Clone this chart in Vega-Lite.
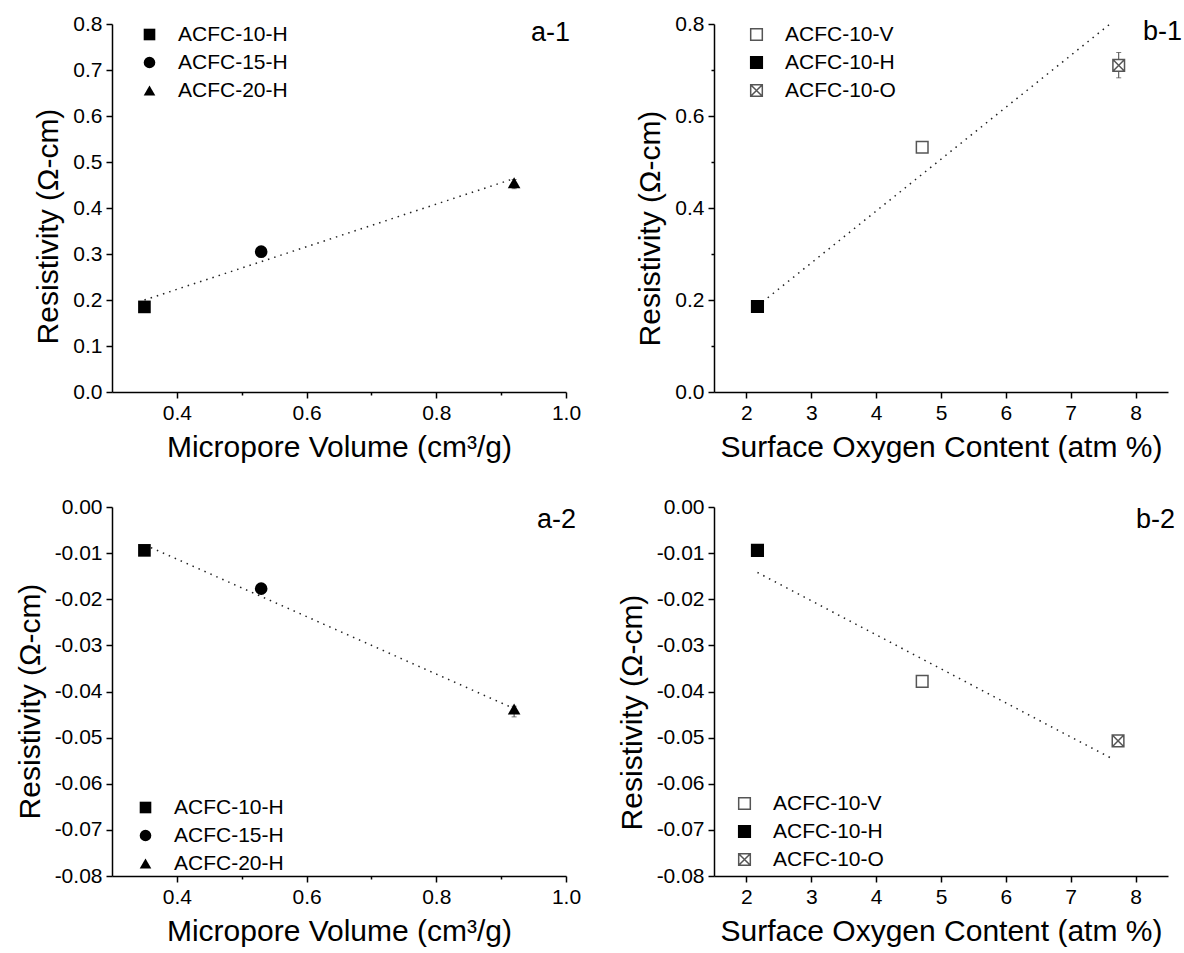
{
  "$schema": "https://vega.github.io/schema/vega-lite/v6.json",
  "background": "white",
  "padding": {"left": 15, "top": 13, "right": 5, "bottom": 5},
  "config": {
    "font": "Liberation Sans",
    "view": {"stroke": null},
    "axis": {
      "domainColor": "black", "domainWidth": 1.5,
      "tickColor": "black", "tickWidth": 1.5,
      "labelFont": "Liberation Sans", "labelFontSize": 21, "labelColor": "black",
      "titleFont": "Liberation Sans", "titleFontSize": 30, "titleFontWeight": "normal", "titleColor": "black",
      "grid": false, "labelPadding": 4, "titlePadding": 9,
      "labelFlush": false, "labelOverlap": false
    },
    "legend": {
      "labelFont": "Liberation Sans", "labelFontSize": 21, "labelColor": "black",
      "symbolSize": 135, "symbolStrokeWidth": 1.5, "rowPadding": 6, "labelOffset": 18, "padding": 0
    }
  },
  "resolve": {
    "scale": {"shape": "independent", "fill": "independent", "stroke": "independent"},
    "legend": {"shape": "independent", "fill": "independent", "stroke": "independent"}
  },
  "datasets": {
    "a1": [
      {"sample": "ACFC-10-H", "x": 0.35, "y": 0.185},
      {"sample": "ACFC-15-H", "x": 0.53, "y": 0.305},
      {"sample": "ACFC-20-H", "x": 0.92, "y": 0.455, "lo": 0.442, "hi": 0.462}
    ],
    "fa1": [{"x": 0.35, "y": 0.200}, {"x": 0.92, "y": 0.464}],
    "b1": [
      {"sample": "ACFC-10-V", "x": 4.71, "y": 0.532, "lo": 0.522, "hi": 0.540},
      {"sample": "ACFC-10-H", "x": 2.17, "y": 0.186},
      {"sample": "ACFC-10-O", "x": 7.74, "y": 0.710, "lo": 0.683, "hi": 0.738}
    ],
    "fb1": [{"x": 2.25, "y": 0.196}, {"x": 7.65, "y": 0.805}],
    "a2": [
      {"sample": "ACFC-10-H", "x": 0.35, "y": -0.0094},
      {"sample": "ACFC-15-H", "x": 0.53, "y": -0.0177},
      {"sample": "ACFC-20-H", "x": 0.92, "y": -0.0438, "lo": -0.0455, "hi": -0.0432}
    ],
    "fa2": [{"x": 0.36, "y": -0.0088}, {"x": 0.92, "y": -0.0437}],
    "b2": [
      {"sample": "ACFC-10-V", "x": 4.71, "y": -0.0378},
      {"sample": "ACFC-10-H", "x": 2.17, "y": -0.0094},
      {"sample": "ACFC-10-O", "x": 7.73, "y": -0.0507}
    ],
    "fb2": [{"x": 2.17, "y": -0.0142}, {"x": 7.63, "y": -0.0545}],
    "labels": [{"panel": "a-1"}, {"panel": "b-1"}, {"panel": "a-2"}, {"panel": "b-2"}]
  },
  "columns": 2,
  "bounds": "flush",
  "spacing": {"row": 115, "column": 148},
  "concat": [
    {
      "width": 454, "height": 368,
      "layer": [
        {"data": {"name": "fa1"}, "mark": {"type": "line", "color": "#222", "strokeWidth": 1.5, "strokeDash": [1.5, 5]},
          "encoding": {
            "x": {"field": "x", "type": "quantitative", "title": "Micropore Volume (cm³/g)", "scale": {"domain": [0.3, 1.0], "nice": false, "zero": false}},
            "y": {"field": "y", "type": "quantitative", "title": "Resistivity (Ω-cm)", "scale": {"domain": [0, 0.8], "nice": false, "zero": false}}}},
        {"data": {"name": "a1"}, "transform": [{"filter": "isValid(datum.lo)"}],
          "mark": {"type": "errorbar", "ticks": true, "color": "#444"},
          "encoding": {
            "x": {"field": "x", "type": "quantitative", "title": "Micropore Volume (cm³/g)", "scale": {"domain": [0.3, 1.0], "nice": false, "zero": false}},
            "y": {"field": "lo", "type": "quantitative", "title": "Resistivity (Ω-cm)", "scale": {"domain": [0, 0.8], "nice": false, "zero": false}},
            "y2": {"field": "hi"}}},
        {"data": {"name": "a1"},
          "mark": {"type": "point", "filled": true, "color": "black", "opacity": 1, "size": 160},
          "encoding": {
            "x": {"field": "x", "type": "quantitative", "title": "Micropore Volume (cm³/g)", "scale": {"domain": [0.3, 1.0], "nice": false, "zero": false},
              "axis": {"values": [0.4, 0.5, 0.6, 0.7, 0.8, 0.9, 1.0],
                "labelExpr": "round(datum.value*10) % 2 == 0 ? format(datum.value, '.1f') : ''",
                "tickSize": {"condition": {"test": "round(datum.value*10) % 2 == 0", "value": 6}, "value": 3}}},
            "y": {"field": "y", "type": "quantitative", "title": "Resistivity (Ω-cm)", "scale": {"domain": [0, 0.8], "nice": false, "zero": false},
              "axis": {"titleY": 202, "values": [0, 0.05, 0.1, 0.15, 0.2, 0.25, 0.3, 0.35, 0.4, 0.45, 0.5, 0.55, 0.6, 0.65, 0.7, 0.75, 0.8],
                "labelExpr": "abs(datum.value*10 - round(datum.value*10)) < 0.01 ? format(datum.value, '.1f') : ''",
                "tickSize": {"condition": {"test": "abs(datum.value*10 - round(datum.value*10)) < 0.01", "value": 6}, "value": 3}}},
            "shape": {"field": "sample", "type": "nominal",
              "scale": {"domain": ["ACFC-10-H", "ACFC-15-H", "ACFC-20-H"], "range": ["square", "circle", "triangle-up"]},
              "legend": {"title": null, "orient": "none", "legendX": 27, "legendY": 0}}}},
        {"data": {"name": "labels"}, "transform": [{"filter": "datum.panel == 'a-1'"}],
          "mark": {"type": "text", "align": "right", "baseline": "top", "fontSize": 27, "font": "Liberation Sans", "color": "black", "dx": 4, "dy": -4},
          "encoding": {"x": {"datum": 1.0, "type": "quantitative"}, "y": {"datum": 0.8, "type": "quantitative"}, "text": {"field": "panel", "type": "nominal"}}}
      ]
    },
    {
      "width": 454, "height": 368,
      "layer": [
        {"data": {"name": "fb1"}, "mark": {"type": "line", "color": "#222", "strokeWidth": 1.5, "strokeDash": [1.5, 5]},
          "encoding": {
            "x": {"field": "x", "type": "quantitative", "title": "Surface Oxygen Content (atm %)", "scale": {"domain": [1.5, 8.5], "nice": false, "zero": false}},
            "y": {"field": "y", "type": "quantitative", "title": "Resistivity (Ω-cm)", "scale": {"domain": [0, 0.8], "nice": false, "zero": false}}}},
        {"data": {"name": "b1"}, "transform": [{"filter": "isValid(datum.lo)"}],
          "mark": {"type": "errorbar", "ticks": true, "color": "#444"},
          "encoding": {
            "x": {"field": "x", "type": "quantitative", "title": "Surface Oxygen Content (atm %)", "scale": {"domain": [1.5, 8.5], "nice": false, "zero": false}},
            "y": {"field": "lo", "type": "quantitative", "title": "Resistivity (Ω-cm)", "scale": {"domain": [0, 0.8], "nice": false, "zero": false}},
            "y2": {"field": "hi"}}},
        {"data": {"name": "b1"},
          "mark": {"type": "point", "opacity": 1, "size": 135, "strokeWidth": 1.5},
          "encoding": {
            "x": {"field": "x", "type": "quantitative", "title": "Surface Oxygen Content (atm %)", "scale": {"domain": [1.5, 8.5], "nice": false, "zero": false},
              "axis": {"values": [2, 2.5, 3, 3.5, 4, 4.5, 5, 5.5, 6, 6.5, 7, 7.5, 8, 8.5],
                "labelExpr": "datum.value % 1 == 0 ? format(datum.value, 'd') : ''",
                "tickSize": {"condition": {"test": "datum.value % 1 == 0", "value": 6}, "value": 3}}},
            "y": {"field": "y", "type": "quantitative", "title": "Resistivity (Ω-cm)", "scale": {"domain": [0, 0.8], "nice": false, "zero": false},
              "axis": {"titleY": 204, "values": [0, 0.1, 0.2, 0.3, 0.4, 0.5, 0.6, 0.7, 0.8],
                "labelExpr": "round(datum.value*10) % 2 == 0 ? format(datum.value, '.1f') : ''",
                "tickSize": {"condition": {"test": "round(datum.value*10) % 2 == 0", "value": 6}, "value": 3}}},
            "shape": {"field": "sample", "type": "nominal",
              "scale": {"domain": ["ACFC-10-V", "ACFC-10-H", "ACFC-10-O"], "range": ["square", "square", "M-1,-1H1V1H-1Z M-1,-1L1,1 M-1,1L1,-1"]},
              "legend": {"title": null, "orient": "none", "legendX": 32, "legendY": 0}},
            "fill": {"field": "sample", "type": "nominal",
              "scale": {"domain": ["ACFC-10-V", "ACFC-10-H", "ACFC-10-O"], "range": ["white", "black", "white"]},
              "legend": {"title": null, "orient": "none", "legendX": 32, "legendY": 0}},
            "stroke": {"field": "sample", "type": "nominal",
              "scale": {"domain": ["ACFC-10-V", "ACFC-10-H", "ACFC-10-O"], "range": ["#555", "black", "#555"]},
              "legend": {"title": null, "orient": "none", "legendX": 32, "legendY": 0}}
          }},
        {"data": {"name": "labels"}, "transform": [{"filter": "datum.panel == 'b-1'"}],
          "mark": {"type": "text", "align": "right", "baseline": "top", "fontSize": 27, "font": "Liberation Sans", "color": "black", "dx": 14, "dy": -5},
          "encoding": {"x": {"datum": 8.5, "type": "quantitative"}, "y": {"datum": 0.8, "type": "quantitative"}, "text": {"field": "panel", "type": "nominal"}}}
      ]
    },
    {
      "width": 454, "height": 369,
      "layer": [
        {"data": {"name": "fa2"}, "mark": {"type": "line", "color": "#222", "strokeWidth": 1.5, "strokeDash": [1.5, 5]},
          "encoding": {
            "x": {"field": "x", "type": "quantitative", "title": "Micropore Volume (cm³/g)", "scale": {"domain": [0.3, 1.0], "nice": false, "zero": false}},
            "y": {"field": "y", "type": "quantitative", "title": "Resistivity (Ω-cm)", "scale": {"domain": [-0.08, 0], "nice": false, "zero": false}}}},
        {"data": {"name": "a2"}, "transform": [{"filter": "isValid(datum.lo)"}],
          "mark": {"type": "errorbar", "ticks": true, "color": "#444"},
          "encoding": {
            "x": {"field": "x", "type": "quantitative", "title": "Micropore Volume (cm³/g)", "scale": {"domain": [0.3, 1.0], "nice": false, "zero": false}},
            "y": {"field": "lo", "type": "quantitative", "title": "Resistivity (Ω-cm)", "scale": {"domain": [-0.08, 0], "nice": false, "zero": false}},
            "y2": {"field": "hi"}}},
        {"data": {"name": "a2"},
          "mark": {"type": "point", "filled": true, "color": "black", "opacity": 1, "size": 160},
          "encoding": {
            "x": {"field": "x", "type": "quantitative", "title": "Micropore Volume (cm³/g)", "scale": {"domain": [0.3, 1.0], "nice": false, "zero": false},
              "axis": {"values": [0.4, 0.5, 0.6, 0.7, 0.8, 0.9, 1.0],
                "labelExpr": "round(datum.value*10) % 2 == 0 ? format(datum.value, '.1f') : ''",
                "tickSize": {"condition": {"test": "round(datum.value*10) % 2 == 0", "value": 6}, "value": 3}}},
            "y": {"field": "y", "type": "quantitative", "title": "Resistivity (Ω-cm)", "scale": {"domain": [-0.08, 0], "nice": false, "zero": false},
              "axis": {"titleY": 194, "values": [0, -0.005, -0.01, -0.015, -0.02, -0.025, -0.03, -0.035, -0.04, -0.045, -0.05, -0.055, -0.06, -0.065, -0.07, -0.075, -0.08],
                "labelExpr": "abs(datum.value*100 - round(datum.value*100)) < 0.01 ? (datum.value < -0.0001 ? '-' : '') + format(abs(datum.value), '.2f') : ''",
                "tickSize": {"condition": {"test": "abs(datum.value*100 - round(datum.value*100)) < 0.01", "value": 6}, "value": 3}}},
            "shape": {"field": "sample", "type": "nominal",
              "scale": {"domain": ["ACFC-10-H", "ACFC-15-H", "ACFC-20-H"], "range": ["square", "circle", "triangle-up"]},
              "legend": {"title": null, "orient": "none", "legendX": 23, "legendY": 290}}}},
        {"data": {"name": "labels"}, "transform": [{"filter": "datum.panel == 'a-2'"}],
          "mark": {"type": "text", "align": "right", "baseline": "top", "fontSize": 27, "font": "Liberation Sans", "color": "black", "dx": 10, "dy": 0},
          "encoding": {"x": {"datum": 1.0, "type": "quantitative"}, "y": {"datum": 0, "type": "quantitative"}, "text": {"field": "panel", "type": "nominal"}}}
      ]
    },
    {
      "width": 454, "height": 369,
      "layer": [
        {"data": {"name": "fb2"}, "mark": {"type": "line", "color": "#222", "strokeWidth": 1.5, "strokeDash": [1.5, 5]},
          "encoding": {
            "x": {"field": "x", "type": "quantitative", "title": "Surface Oxygen Content (atm %)", "scale": {"domain": [1.5, 8.5], "nice": false, "zero": false}},
            "y": {"field": "y", "type": "quantitative", "title": "Resistivity (Ω-cm)", "scale": {"domain": [-0.08, 0], "nice": false, "zero": false}}}},
        {"data": {"name": "b2"},
          "mark": {"type": "point", "opacity": 1, "size": 135, "strokeWidth": 1.5},
          "encoding": {
            "x": {"field": "x", "type": "quantitative", "title": "Surface Oxygen Content (atm %)", "scale": {"domain": [1.5, 8.5], "nice": false, "zero": false},
              "axis": {"values": [2, 2.5, 3, 3.5, 4, 4.5, 5, 5.5, 6, 6.5, 7, 7.5, 8, 8.5],
                "labelExpr": "datum.value % 1 == 0 ? format(datum.value, 'd') : ''",
                "tickSize": {"condition": {"test": "datum.value % 1 == 0", "value": 6}, "value": 3}}},
            "y": {"field": "y", "type": "quantitative", "title": "Resistivity (Ω-cm)", "scale": {"domain": [-0.08, 0], "nice": false, "zero": false},
              "axis": {"titleY": 205, "values": [0, -0.005, -0.01, -0.015, -0.02, -0.025, -0.03, -0.035, -0.04, -0.045, -0.05, -0.055, -0.06, -0.065, -0.07, -0.075, -0.08],
                "labelExpr": "abs(datum.value*100 - round(datum.value*100)) < 0.01 ? (datum.value < -0.0001 ? '-' : '') + format(abs(datum.value), '.2f') : ''",
                "tickSize": {"condition": {"test": "abs(datum.value*100 - round(datum.value*100)) < 0.01", "value": 6}, "value": 3}}},
            "shape": {"field": "sample", "type": "nominal",
              "scale": {"domain": ["ACFC-10-V", "ACFC-10-H", "ACFC-10-O"], "range": ["square", "square", "M-1,-1H1V1H-1Z M-1,-1L1,1 M-1,1L1,-1"]},
              "legend": {"title": null, "orient": "none", "legendX": 20, "legendY": 286}},
            "fill": {"field": "sample", "type": "nominal",
              "scale": {"domain": ["ACFC-10-V", "ACFC-10-H", "ACFC-10-O"], "range": ["white", "black", "white"]},
              "legend": {"title": null, "orient": "none", "legendX": 20, "legendY": 286}},
            "stroke": {"field": "sample", "type": "nominal",
              "scale": {"domain": ["ACFC-10-V", "ACFC-10-H", "ACFC-10-O"], "range": ["#555", "black", "#555"]},
              "legend": {"title": null, "orient": "none", "legendX": 20, "legendY": 286}}
          }},
        {"data": {"name": "labels"}, "transform": [{"filter": "datum.panel == 'b-2'"}],
          "mark": {"type": "text", "align": "right", "baseline": "top", "fontSize": 27, "font": "Liberation Sans", "color": "black", "dx": 7, "dy": 0},
          "encoding": {"x": {"datum": 8.5, "type": "quantitative"}, "y": {"datum": 0, "type": "quantitative"}, "text": {"field": "panel", "type": "nominal"}}}
      ]
    }
  ]
}
